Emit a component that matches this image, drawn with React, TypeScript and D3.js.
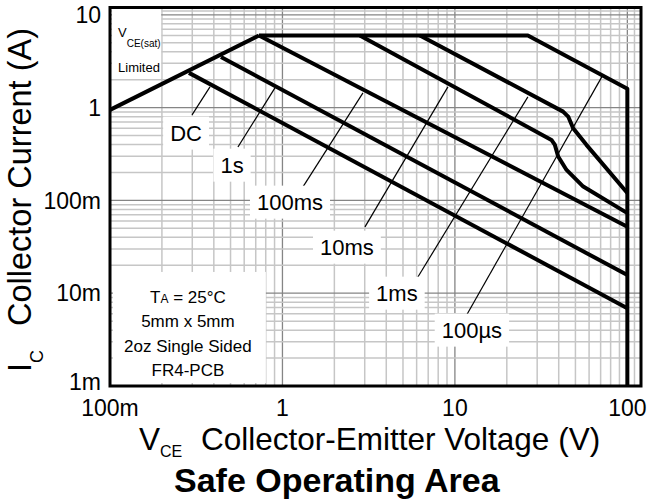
import { useEffect, useRef } from "react";
import * as d3 from "d3";

type Pt = [number, number]; // [VCE in V, IC in A]

// axes
const xDomain: Pt = [0.1, 120];
const yDomain: Pt = [0.001, 12];
const xTickValues = [0.1, 1, 10, 100];
const xTickLabels = ["100m", "1", "10", "100"];
const yTickValues = [0.001, 0.01, 0.1, 1, 10];
const yTickLabels = ["1m", "10m", "100m", "1", "10"];
const gridDecadesX = [0.1, 1, 10, 100];
const gridDecadesY = [0.001, 0.01, 0.1, 1, 10];
const gridMultipliers = [1, 2, 3, 4, 5, 6, 7, 8, 9];
const gridExtraX = [110];
const gridExtraY = [11];

// SOA boundaries
const vceSatLimit: Pt[] = [[0.1, 0.946], [0.731, 6.0]];
const dcCurve: Pt[] = [[0.287, 2.37], [100, 0.0069]];
const curve1s: Pt[] = [[0.44, 3.52], [100, 0.0157]];
const curve100ms: Pt[] = [[0.731, 6.0], [100, 0.052]];
const curve10ms: Pt[] = [[2.81, 6.0], [36.3, 0.449], [38.0, 0.397], [39.7, 0.297], [44.4, 0.213], [55.5, 0.141], [100, 0.073]];
const curve1ms: Pt[] = [[6.27, 6.0], [42.4, 0.906], [45.4, 0.801], [48.5, 0.6], [57.9, 0.397], [100, 0.12]];
const curve100us: Pt[] = [[0.731, 6.0], [26.5, 6.0], [100, 1.6], [100, 0.001]];

// curve labels and leader lines
const labelNames = ["DC", "1s", "100ms", "10ms", "1ms", "100µs"];
const labelPos: Pt[] = [[0.276, 0.534], [0.51, 0.241], [1.106, 0.0963], [2.365, 0.0315], [4.61, 0.01006], [12.55, 0.00402]];
const leaderFrom: Pt[] = [[0.299, 0.836], [0.552, 0.377], [1.315, 0.1398], [3.01, 0.0518], [6.1, 0.01496], [11.7, 0.00583]];
const leaderTo: Pt[] = [[0.38, 1.675], [0.905, 1.633], [2.93, 1.443], [9.11, 1.674], [26.5, 1.306], [71.1, 2.146]];

// notes
const satBox: Pt[] = [[0.1027, 11.5], [0.198, 2.09]];
const satNoteAt: Pt = [0.1113, 5.79];
const satLimitedAt: Pt = [0.1113, 2.43];
const boardBox: Pt[] = [[0.104, 0.01695], [0.801, 0.001077]];
const boardNoteAt: Pt = [0.283, 0.00786];
const boardNotes = ["5mm x 5mm", "2oz Single Sided", "FR4-PCB"];

const FONT = "'Liberation Sans', Arial, Helvetica, sans-serif";

export default function App() {
  const svgRef = useRef<SVGSVGElement>(null);

  useEffect(() => {
    if (!svgRef.current) return;
    const svg = d3.select(svgRef.current);
    svg.selectAll("*").remove();
    svg.attr("font-family", FONT);

    const x = d3.scaleLog().domain(xDomain).range([110, 641]);
    const y = d3.scaleLog().domain(yDomain).range([386, 7.5]);
    const [x0, x1] = x.range();
    const [y0, y1] = y.range();

    // grid
    const xGrid = gridDecadesX.flatMap((d) => gridMultipliers.map((m) => m * d))
      .concat(gridExtraX).filter((v) => v > xDomain[0] && v < xDomain[1]);
    const yGrid = gridDecadesY.flatMap((d) => gridMultipliers.map((m) => m * d))
      .concat(gridExtraY).filter((v) => v > yDomain[0] && v < yDomain[1]);
    const isMajor = (v: number) => Math.abs(Math.log10(v) - Math.round(Math.log10(v))) < 1e-6;

    const grid = svg.append("g");
    grid.selectAll(".vx").data(xGrid).enter().append("line")
      .attr("x1", (d) => x(d)).attr("x2", (d) => x(d))
      .attr("y1", y0).attr("y2", y1)
      .attr("stroke", (d) => (isMajor(d) ? "#858585" : "#c6c6c6"))
      .attr("stroke-width", (d) => (isMajor(d) ? 1.3 : 1.5));
    grid.selectAll(".hy").data(yGrid).enter().append("line")
      .attr("y1", (d) => y(d)).attr("y2", (d) => y(d))
      .attr("x1", x0).attr("x2", x1)
      .attr("stroke", (d) => (isMajor(d) ? "#858585" : "#c6c6c6"))
      .attr("stroke-width", (d) => (isMajor(d) ? 1.3 : 1.5));

    // note boxes
    [satBox, boardBox].forEach((b) => {
      svg.append("rect")
        .attr("x", x(b[0][0])).attr("y", y(b[0][1]))
        .attr("width", x(b[1][0]) - x(b[0][0]))
        .attr("height", y(b[1][1]) - y(b[0][1]))
        .attr("fill", "#fff");
    });

    // curves
    const line = d3.line<Pt>().x((d) => x(d[0])).y((d) => y(d[1]));
    [vceSatLimit, dcCurve, curve1s, curve100ms, curve10ms, curve1ms, curve100us].forEach((c) => {
      svg.append("path").attr("d", line(c)).attr("fill", "none")
        .attr("stroke", "#000").attr("stroke-width", 4)
        .attr("stroke-linejoin", "round");
    });

    // leader lines
    leaderFrom.forEach((p, i) => {
      svg.append("line")
        .attr("x1", x(p[0])).attr("y1", y(p[1]))
        .attr("x2", x(leaderTo[i][0])).attr("y2", y(leaderTo[i][1]))
        .attr("stroke", "#000").attr("stroke-width", 1.2);
    });

    // labels with white backgrounds
    labelNames.forEach((name, i) => {
      const g = svg.append("g");
      const t = g.append("text")
        .attr("x", x(labelPos[i][0])).attr("y", y(labelPos[i][1]))
        .attr("dy", "0.35em").attr("text-anchor", "middle")
        .attr("font-size", 22).attr("fill", "#000").text(name);
      const bb = (t.node() as SVGTextElement).getBBox();
      g.insert("rect", "text")
        .attr("x", bb.x - 7).attr("y", bb.y - 4)
        .attr("width", bb.width + 14).attr("height", bb.height + 8)
        .attr("fill", "#fff");
    });

    // VCE(sat) limited note
    const sat = svg.append("text").attr("x", x(satNoteAt[0])).attr("y", y(satNoteAt[1]))
      .attr("font-size", 13);
    sat.append("tspan").text("V");
    sat.append("tspan").attr("dy", 10).attr("font-size", 10).text("CE(sat)");
    svg.append("text").attr("x", x(satLimitedAt[0])).attr("y", y(satLimitedAt[1]))
      .attr("font-size", 13).text("Limited");

    // board note
    const bx = x(boardNoteAt[0]);
    const by = y(boardNoteAt[1]);
    const ta = svg.append("text").attr("x", bx).attr("y", by)
      .attr("text-anchor", "middle").attr("font-size", 17);
    ta.append("tspan").text("T");
    ta.append("tspan").attr("font-size", 12).text("A");
    ta.append("tspan").text(" = 25°C");
    boardNotes.forEach((s, i) => {
      svg.append("text").attr("x", bx).attr("y", by + 24.5 * (i + 1))
        .attr("text-anchor", "middle").attr("font-size", 17).text(s);
    });

    // frame
    svg.append("rect").attr("x", x0).attr("y", y1)
      .attr("width", x1 - x0).attr("height", y0 - y1)
      .attr("fill", "none").attr("stroke", "#000").attr("stroke-width", 3);

    // tick labels (lowest y label nudged up to clear the x labels)
    yTickValues.forEach((v, i) => {
      svg.append("text").attr("x", 101).attr("y", y(v) - (v === yDomain[0] ? 4 : 0))
        .attr("dy", "0.36em")
        .attr("text-anchor", "end").attr("font-size", 23).text(yTickLabels[i]);
    });
    xTickValues.forEach((v, i) => {
      svg.append("text").attr("x", x(v)).attr("y", 416)
        .attr("text-anchor", "middle").attr("font-size", 23).text(xTickLabels[i]);
    });

    // axis titles
    const xt = svg.append("text").attr("x", 139).attr("y", 450).attr("font-size", 31.5);
    xt.append("tspan").text("V");
    xt.append("tspan").attr("dy", 7).attr("font-size", 16).text("CE");
    xt.append("tspan").attr("x", 201).attr("dy", -7).text("Collector-Emitter Voltage (V)");

    const yt = svg.append("text").attr("transform", "translate(31,372) rotate(-90)")
      .attr("font-size", 32.5);
    yt.append("tspan").text("I");
    yt.append("tspan").attr("dy", 12).attr("font-size", 18).text("C");
    yt.append("tspan").attr("x", 46).attr("dy", -12).text("Collector Current (A)");

    svg.append("text").attr("x", 174).attr("y", 492)
      .attr("font-size", 34).attr("font-weight", "bold").text("Safe Operating Area");
  }, []);

  return (
    <svg
      ref={svgRef}
      width={648}
      height={503}
      style={{ position: "absolute", left: 0, top: 0, background: "#fff" }}
    />
  );
}
